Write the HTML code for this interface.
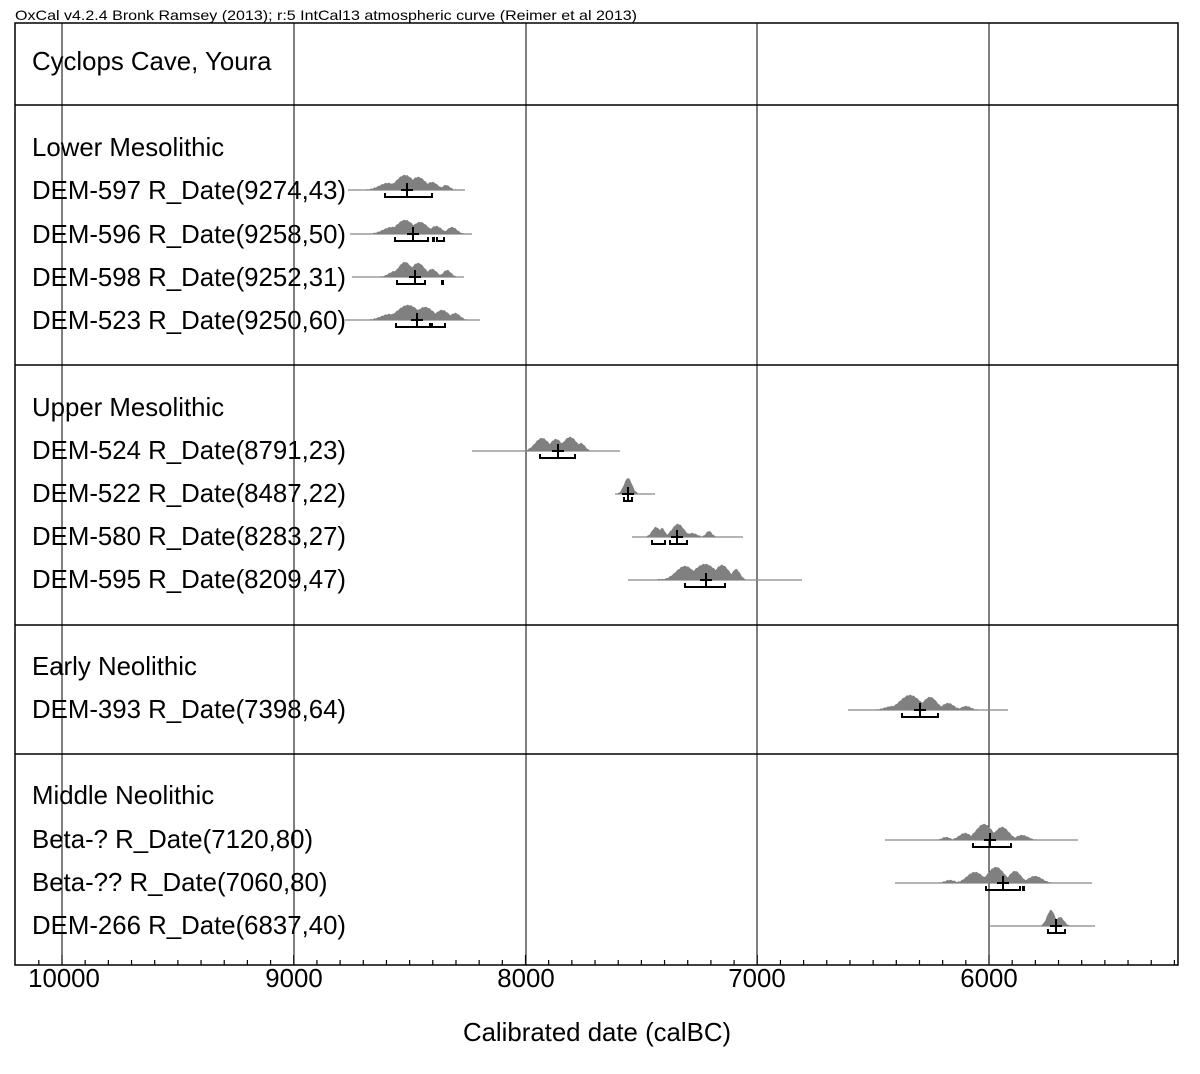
<!DOCTYPE html>
<html><head><meta charset="utf-8"><style>
body{margin:0;background:#fff;}
svg{display:block;font-family:"Liberation Sans",Arial,sans-serif;}
</style></head><body>
<svg id="s" width="1200" height="1074" xmlns="http://www.w3.org/2000/svg">
<rect width="1200" height="1074" fill="#fff"/>
<text x="15" y="20" font-size="14" textLength="622" lengthAdjust="spacingAndGlyphs">OxCal v4.2.4 Bronk Ramsey (2013); r:5 IntCal13 atmospheric curve (Reimer et al 2013)</text>
<g stroke="#000" stroke-width="1.5" fill="none">
<rect x="15" y="23" width="1163" height="942"/>
<line x1="15" y1="105" x2="1178" y2="105"/>
<line x1="15" y1="365" x2="1178" y2="365"/>
<line x1="15" y1="625" x2="1178" y2="625"/>
<line x1="15" y1="754" x2="1178" y2="754"/>
</g>
<g stroke="#000" stroke-width="1">
<line x1="62" y1="23" x2="62" y2="965"/>
<line x1="294" y1="23" x2="294" y2="965"/>
<line x1="526" y1="23" x2="526" y2="965"/>
<line x1="757" y1="23" x2="757" y2="965"/>
<line x1="989" y1="23" x2="989" y2="965"/>
</g>
<g id="ticks" stroke="#000" stroke-width="1.2"></g>
<g font-size="25.8" fill="#000">
<text x="32" y="70">Cyclops Cave, Youra</text>
<text x="32" y="156">Lower Mesolithic</text>
<text x="32" y="199">DEM-597 R_Date(9274,43)</text>
<text x="32" y="243">DEM-596 R_Date(9258,50)</text>
<text x="32" y="286">DEM-598 R_Date(9252,31)</text>
<text x="32" y="329">DEM-523 R_Date(9250,60)</text>
<text x="32" y="416">Upper Mesolithic</text>
<text x="32" y="459">DEM-524 R_Date(8791,23)</text>
<text x="32" y="502">DEM-522 R_Date(8487,22)</text>
<text x="32" y="545">DEM-580 R_Date(8283,27)</text>
<text x="32" y="588">DEM-595 R_Date(8209,47)</text>
<text x="32" y="675">Early Neolithic</text>
<text x="32" y="718">DEM-393 R_Date(7398,64)</text>
<text x="32" y="804">Middle Neolithic</text>
<text x="32" y="848">Beta-? R_Date(7120,80)</text>
<text x="32" y="891">Beta-?? R_Date(7060,80)</text>
<text x="32" y="934">DEM-266 R_Date(6837,40)</text>
<text x="64" y="987" text-anchor="middle">10000</text>
<text x="294" y="987" text-anchor="middle">9000</text>
<text x="526" y="987" text-anchor="middle">8000</text>
<text x="757" y="987" text-anchor="middle">7000</text>
<text x="989" y="987" text-anchor="middle">6000</text>
<text x="597" y="1041" text-anchor="middle">Calibrated date (calBC)</text>
</g>
<g id="d"></g>
</svg>
<script>
var NS="http://www.w3.org/2000/svg";
function el(p,t,a){var e=document.createElementNS(NS,t);for(var k in a)e.setAttribute(k,a[k]);p.appendChild(e);return e;}
var tk=document.getElementById('ticks');
for(var i=-2;i<=48;i++){var x=62+i*23.175;if(x<16||x>1177)continue;var L=(i%10==0)?10:5;el(tk,'line',{x1:x,y1:965,x2:x,y2:965-L});}
var d=document.getElementById('d');
var rows=[
[190,348,465,[[388,7,9],[405,15,9],[418,13,8],[432,8,6],[446,5,4]],407,[[385,432]]],
[234,350,472,[[392,7,9],[405,14,9],[420,12,8],[436,8,6],[452,7,5]],413,[[395,428],[433,434],[437,444]]],
[277,352,464,[[395,6,6],[405,15,7],[418,14,7],[432,8,5],[447,7,4]],415,[[397,425],[442,443]]],
[320,345,480,[[390,6,9],[408,15,11],[425,13,9],[442,10,7],[455,7,5]],417,[[396,430],[432,445]]],
[451,472,620,[[542,13,7],[556,12,6],[570,14,7],[581,8,4]],558,[[540,575]]],
[494,615,655,[[628,16,4]],628,[[624,632]]],
[537,632,743,[[656,10,4],[662,9,3],[678,13,6],[692,4,5],[709,6,3]],677,[[652,665],[670,687]]],
[580,628,802,[[661,1,3],[685,14,9],[705,16,11],[722,15,7],[736,11,4]],706,[[685,725]]],
[710,848,1008,[[893,4,8],[910,15,10],[930,13,7],[948,7,6],[966,4,5]],920,[[902,938]]],
[840,885,1078,[[946,3,4],[965,7,6],[984,16,8],[1002,13,7],[1022,5,6]],990,[[973,1011]]],
[883,895,1092,[[950,3,5],[975,11,8],[996,16,8],[1015,12,6],[1035,7,7]],1003,[[986,1020],[1023,1024]]],
[926,990,1095,[[1051,16,4],[1060,9,4]],1056,[[1048,1065]]]
];
rows.forEach(function(r){
 var y=r[0];
 el(d,'line',{x1:r[1],y1:y,x2:r[2],y2:y,stroke:'#888','stroke-width':1.3});
 var pts=[];var xs=r[3][0][0]-r[3][0][2]*2.5, xe=r[3][r[3].length-1][0]+r[3][r[3].length-1][2]*2.5;
 for(var x=xs;x<=xe;x+=1){var h=0;r[3].forEach(function(p){var t=(x-p[0])/p[2];h=Math.max(h,p[1]*Math.exp(-t*t/2)+0.4*Math.sin(x*1.7));});h=Math.max(0,h);pts.push(x+','+(y-h).toFixed(1));}
 el(d,'polygon',{points:xs+','+y+' '+pts.join(' ')+' '+xe+','+y,fill:'#808080'});
 var c=r[4];
 el(d,'line',{x1:c-6,y1:y,x2:c+6,y2:y,stroke:'#000','stroke-width':2});
 el(d,'line',{x1:c,y1:y-7,x2:c,y2:y+7,stroke:'#000','stroke-width':2});
 r[5].forEach(function(b){el(d,'path',{d:'M'+b[0]+' '+(y+3)+'V'+(y+7)+'H'+b[1]+'V'+(y+3),stroke:'#000','stroke-width':2,fill:'none'});});
});
</script>
</body></html>
